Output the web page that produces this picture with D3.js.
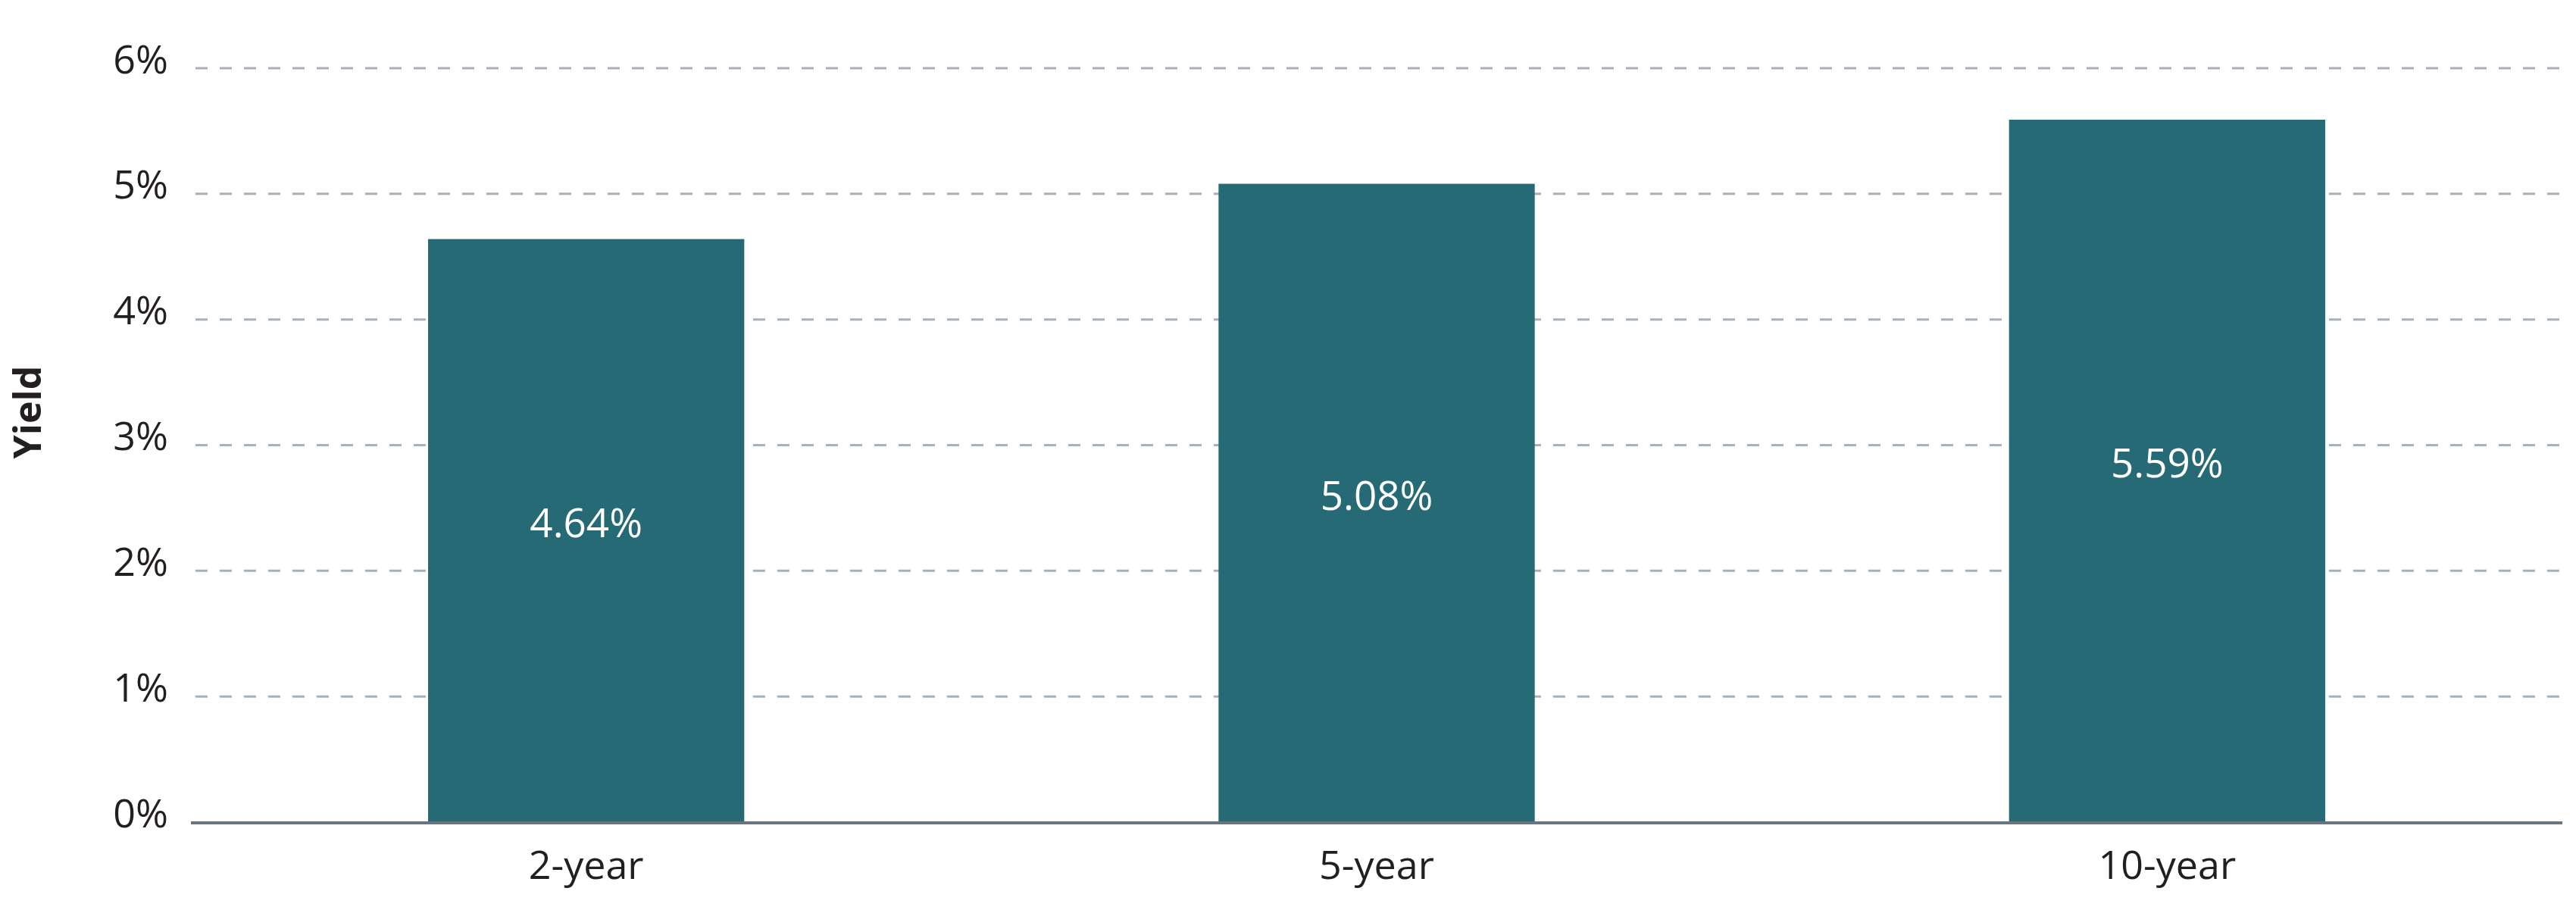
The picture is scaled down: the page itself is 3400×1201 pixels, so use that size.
<!DOCTYPE html>
<html>
<head>
<meta charset="utf-8">
<script src="https://cdn.jsdelivr.net/npm/d3@7"></script>
<style>
  html, body { margin: 0; padding: 0; background: #fff; }
  svg { display: block; font-family: "Open Sans", "Noto Sans", sans-serif; }
</style>
</head>
<body>
<svg id="chart" width="3400" height="1201"></svg>
<script>
// ── DATA ────────────────────────────────────────────────────────────────
const categories = ['2-year', '5-year', '10-year'];
const yields = [4.64, 5.08, 5.59];
const valueLabels = ['4.64%', '5.08%', '5.59%'];
const yTicks = [0, 1, 2, 3, 4, 5, 6];
const yTickLabels = ['0%', '1%', '2%', '3%', '4%', '5%', '6%'];
const yTitle = 'Yield';

// ── LAYOUT ──────────────────────────────────────────────────────────────
const plotLeft = 252, plotRight = 3382, plotTop = 90, plotBottom = 1085;
const barColor = '#266a75';
const textColor = '#231f20';

const svg = d3.select('#chart');

const x = d3.scaleBand()
  .domain(categories)
  .range([plotLeft, plotRight])
  .paddingInner(0.6)
  .paddingOuter(0.3);

const y = d3.scaleLinear()
  .domain([0, 6])
  .range([plotBottom, plotTop]);

// gridlines (dashed), skip the zero line – that one is the baseline
svg.append('g')
  .selectAll('line')
  .data(yTicks.filter(t => t > 0))
  .join('line')
  .attr('x1', plotLeft + 6)
  .attr('x2', plotRight)
  .attr('y1', d => y(d))
  .attr('y2', d => y(d))
  .attr('stroke', '#a8b0b9')
  .attr('stroke-width', 3)
  .attr('stroke-dasharray', '16 16');

// y axis labels
const yAxis = d3.axisLeft(y)
  .tickValues(yTicks)
  .tickFormat((d, i) => yTickLabels[i])
  .tickSize(0)
  .tickPadding(0);

const yg = svg.append('g')
  .attr('transform', 'translate(222,0)')
  .call(yAxis);
yg.select('.domain').remove();
yg.selectAll('text')
  .attr('font-size', 52)
  .attr('fill', textColor)
  .attr('dy', 6)
  .attr('font-family', '"Open Sans", sans-serif');

// bars
svg.append('g')
  .selectAll('rect')
  .data(yields)
  .join('rect')
  .attr('x', (d, i) => x(categories[i]))
  .attr('width', x.bandwidth())
  .attr('y', d => y(d))
  .attr('height', d => y(0) - y(d))
  .attr('fill', barColor);

// value labels inside bars
svg.append('g')
  .selectAll('text')
  .data(yields)
  .join('text')
  .attr('x', (d, i) => x(categories[i]) + x.bandwidth() / 2)
  .attr('y', d => (y(d) + y(0)) / 2 + 9)
  .attr('text-anchor', 'middle')
  .attr('font-size', 53)
  .attr('fill', '#ffffff')
  .text((d, i) => valueLabels[i]);

// baseline
svg.append('line')
  .attr('x1', plotLeft)
  .attr('x2', plotRight)
  .attr('y1', y(0) + 1)
  .attr('y2', y(0) + 1)
  .attr('stroke', '#66757f')
  .attr('stroke-width', 4);

// x axis labels
const xAxis = d3.axisBottom(x).tickSize(0).tickPadding(0);
const xg = svg.append('g')
  .attr('transform', `translate(0,${y(0)})`)
  .call(xAxis);
xg.select('.domain').remove();
xg.selectAll('text')
  .attr('font-size', 52)
  .attr('fill', textColor)
  .attr('dy', 0)
  .attr('y', 75)
  .attr('font-family', '"Open Sans", sans-serif');

// y title
svg.append('text')
  .attr('transform', 'translate(54,544) rotate(-90)')
  .attr('text-anchor', 'middle')
  .attr('font-size', 50)
  .attr('font-weight', 'bold')
  .attr('fill', textColor)
  .text(yTitle);
</script>
</body>
</html>
